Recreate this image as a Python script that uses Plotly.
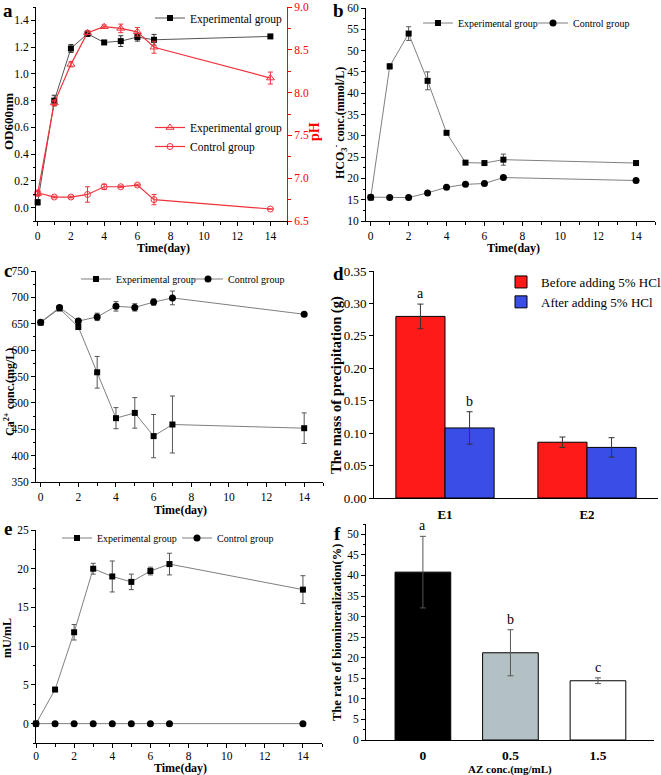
import plotly.graph_objects as go

W, H = 661, 775
FONT = "Liberation Serif"
RED = "#F2323C"
GREY_LINE = "#7F7F7F"

# ---------------- data ----------------
days = [0, 1, 2, 3, 4, 5, 6, 7, 14]

# panel a
od_exp = [0.04, 0.80, 1.19, 1.30, 1.235, 1.245, 1.275, 1.255, 1.28]
od_exp_err = [0.02, 0.04, 0.03, 0.02, 0.01, 0.04, 0.03, 0.04, 0.01]
ph_exp = [6.82, 7.88, 8.33, 8.70, 8.77, 8.75, 8.71, 8.53, 8.17]
ph_exp_err = [0.03, 0.03, 0.03, 0.02, 0.02, 0.05, 0.05, 0.07, 0.07]
ph_ctl = [6.83, 6.78, 6.78, 6.81, 6.90, 6.90, 6.92, 6.75, 6.64]
ph_ctl_err = [0.02, 0.01, 0.01, 0.09, 0.03, 0.01, 0.01, 0.06, 0.0]

# panel b
hco3_exp = [15.5, 46.3, 54.0, 42.9, 30.7, 23.7, 23.6, 24.4, 23.6]
hco3_exp_err = [0.3, 0.6, 1.6, 2.1, 0.3, 0.3, 0.3, 1.3, 0.5]
hco3_ctl = [15.6, 15.5, 15.5, 16.6, 17.9, 18.6, 18.8, 20.2, 19.5]

# panel c
ca_exp = [652, 679, 644, 558, 471, 481, 437, 459, 452]
ca_exp_err = [3, 4, 5, 30, 20, 29, 41, 54, 29]
ca_ctl = [653, 681, 655, 663, 683, 681, 691, 699, 668]
ca_ctl_err = [2, 3, 3, 7, 9, 7, 6, 13, 2]

# panel d
d_cats = ["E1", "E2"]
d_before = [0.280, 0.086]
d_before_err = [0.019, 0.008]
d_after = [0.108, 0.078]
d_after_err = [0.025, 0.015]
d_letters_before = ["a", ""]
d_letters_after = ["b", ""]

# panel e
ca_enz_exp = [0.0, 4.4, 11.8, 20.0, 19.0, 18.3, 19.7, 20.6, 17.3]
ca_enz_exp_err = [0.0, 0.2, 1.0, 0.7, 2.0, 1.0, 0.5, 1.4, 1.8]
ca_enz_ctl = [0, 0, 0, 0, 0, 0, 0, 0, 0]

# panel f
f_cats = ["0", "0.5", "1.5"]
f_rate = [40.8, 21.2, 14.4]
f_rate_err = [8.7, 5.6, 0.7]
f_letters = ["a", "b", "c"]
f_colors = ["#000000", "#B4C1C4", "#FFFFFF"]


def xd(a, b):
    return [a / W, b / W]


def yd(top, bottom):
    return [1 - bottom / H, 1 - top / H]


TICKFONT = dict(family=FONT, size=11.5, color="black")


def ax(**kw):
    d = dict(showline=True, linecolor="black", linewidth=1, ticks="outside",
             ticklen=4, tickwidth=1, tickcolor="black", showgrid=False,
             zeroline=False, mirror=False, tickfont=TICKFONT)
    d.update(kw)
    return d


def minor(dt, color="black"):
    return dict(dtick=dt, ticks="outside", ticklen=2.5, tickcolor=color, tickwidth=1)


fig = go.Figure()

sq = dict(symbol="square", size=6, color="black")
circ = dict(symbol="circle", size=7, color="black")

# ---------------- panel a ----------------
fig.add_trace(go.Scatter(x=days, y=od_exp, mode="lines+markers", name="Experimental group",
                         line=dict(color="#555555", width=1), marker=sq,
                         error_y=dict(array=od_exp_err, color="#333333", thickness=1, width=2.5),
                         xaxis="x", yaxis="y", legend="legend", cliponaxis=False))
fig.add_trace(go.Scatter(x=days, y=ph_exp, mode="lines+markers", name="Experimental group",
                         line=dict(color=RED, width=1.2),
                         marker=dict(symbol="triangle-up-open", size=7, color=RED, line=dict(width=1)),
                         error_y=dict(array=ph_exp_err, color=RED, thickness=1, width=2.5),
                         xaxis="x", yaxis="y7", legend="legend2", cliponaxis=False))
fig.add_trace(go.Scatter(x=days, y=ph_ctl, mode="lines+markers", name="Control group",
                         line=dict(color=RED, width=1.2),
                         marker=dict(symbol="circle-open", size=6, color=RED, line=dict(width=1)),
                         error_y=dict(array=ph_ctl_err, color=RED, thickness=1, width=2.5),
                         xaxis="x", yaxis="y7", legend="legend2", cliponaxis=False))

# ---------------- panel b ----------------
fig.add_trace(go.Scatter(x=days, y=hco3_exp, mode="lines+markers", name="Experimental group",
                         line=dict(color=GREY_LINE, width=1), marker=sq,
                         error_y=dict(array=hco3_exp_err, color="#555555", thickness=1, width=2.5),
                         xaxis="x2", yaxis="y2", legend="legend3", cliponaxis=False))
fig.add_trace(go.Scatter(x=days, y=hco3_ctl, mode="lines+markers", name="Control group",
                         line=dict(color=GREY_LINE, width=1), marker=circ,
                         xaxis="x2", yaxis="y2", legend="legend3", cliponaxis=False))

# ---------------- panel c ----------------
fig.add_trace(go.Scatter(x=days, y=ca_exp, mode="lines+markers", name="Experimental group",
                         line=dict(color=GREY_LINE, width=1), marker=sq,
                         error_y=dict(array=ca_exp_err, color="#555555", thickness=1, width=2.5),
                         xaxis="x3", yaxis="y3", legend="legend4", cliponaxis=False))
fig.add_trace(go.Scatter(x=days, y=ca_ctl, mode="lines+markers", name="Control group",
                         line=dict(color=GREY_LINE, width=1), marker=circ,
                         error_y=dict(array=ca_ctl_err, color="#555555", thickness=1, width=2.5),
                         xaxis="x3", yaxis="y3", legend="legend4", cliponaxis=False))

# ---------------- panel d ----------------
BW_D = 0.346
fig.add_trace(go.Bar(x=d_cats, y=d_before, name="Before adding 5% HCl", width=BW_D, offset=-BW_D,
                     marker=dict(color="#FF1A1A", line=dict(color="black", width=1)),
                     error_y=dict(array=d_before_err, color="#333333", thickness=1, width=3),
                     xaxis="x4", yaxis="y4", legend="legend5"))
fig.add_trace(go.Bar(x=d_cats, y=d_after, name="After adding 5% HCl", width=BW_D, offset=0,
                     marker=dict(color="#3A4DE6", line=dict(color="black", width=1)),
                     error_y=dict(array=d_after_err, color="#333333", thickness=1, width=3),
                     xaxis="x4", yaxis="y4", legend="legend5"))

# ---------------- panel e ----------------
fig.add_trace(go.Scatter(x=days, y=ca_enz_exp, mode="lines+markers", name="Experimental group",
                         line=dict(color=GREY_LINE, width=1), marker=sq,
                         error_y=dict(array=ca_enz_exp_err, color="#555555", thickness=1, width=2.5),
                         xaxis="x5", yaxis="y5", legend="legend6", cliponaxis=False))
fig.add_trace(go.Scatter(x=days, y=ca_enz_ctl, mode="lines+markers", name="Control group",
                         line=dict(color=GREY_LINE, width=1), marker=circ,
                         xaxis="x5", yaxis="y5", legend="legend6", cliponaxis=False))

# ---------------- panel f ----------------
BW_F = 0.636
fig.add_trace(go.Bar(x=f_cats, y=f_rate, width=BW_F, showlegend=False,
                     marker=dict(color=f_colors, line=dict(color="black", width=1)),
                     error_y=dict(array=f_rate_err, color="#555555", thickness=1, width=3),
                     xaxis="x6", yaxis="y6"))

# ---------------- layout ----------------
annotations = []


def lab(text, x, y, size=19):
    annotations.append(dict(text=f"<b>{text}</b>", x=x / W, y=1 - y / H, xref="paper", yref="paper",
                            xanchor="center", yanchor="middle",
                            showarrow=False, font=dict(family=FONT, size=size, color="black")))


def title(text, x, y, angle=0, size=12, color="black"):
    annotations.append(dict(text=f"<b>{text}</b>", x=x / W, y=1 - y / H, xref="paper", yref="paper",
                            xanchor="center", yanchor="middle",
                            showarrow=False, textangle=angle,
                            font=dict(family=FONT, size=size, color=color)))


for t, x, y in [("a", 8, 10), ("b", 338, 11), ("c", 8, 270), ("d", 338, 273), ("e", 8, 528), ("f", 337, 533)]:
    lab(t, x, y)

title("OD600nm", 8, 122, -90, 13)
title("pH", 315, 132, -90, 14, "#FF0000")
title("Time(day)", 163, 248)
title("HCO<sub>3</sub><sup>-</sup> conc.(mmol/L)", 341, 123, -90, 12)
title("Time(day)", 513, 248)
title("Ca<sup>2+</sup> conc.(mg/L)", 9, 392, -90, 12)
title("Time(day)", 180, 510)
title("The mass of precipitation (g)", 336, 385, -90, 14.5)
title("mU/mL", 7, 638, -90, 12)
title("Time(day)", 180, 768)
title("The rate of biomineralization(%)", 337, 633, -90, 12.5)
title("AZ conc.(mg/mL)", 510, 769, 0, 11)

# letters on bars
for i, c in enumerate(d_cats):
    if d_letters_before[i]:
        annotations.append(dict(text=d_letters_before[i], x=i - BW_D / 2, y=d_before[i] + d_before_err[i],
                                xref="x4", yref="y4", yanchor="bottom", showarrow=False, yshift=1,
                                font=dict(family=FONT, size=14, color="black")))
    if d_letters_after[i]:
        annotations.append(dict(text=d_letters_after[i], x=i + BW_D / 2, y=d_after[i] + d_after_err[i],
                                xref="x4", yref="y4", yanchor="bottom", showarrow=False, yshift=1,
                                font=dict(family=FONT, size=14, color="black")))
for i, c in enumerate(f_cats):
    annotations.append(dict(text=f_letters[i], x=i, y=f_rate[i] + f_rate_err[i],
                            xref="x6", yref="y6", yanchor="bottom", showarrow=False, yshift=1,
                            font=dict(family=FONT, size=14, color="black")))

leg_common = dict(bgcolor="rgba(0,0,0,0)", borderwidth=0, xref="paper", yref="paper",
                  xanchor="left", yanchor="middle", itemclick=False,
                  font=dict(family=FONT, size=10, color="black"))
f11 = dict(family=FONT, size=11.5, color="black")
f13 = dict(family=FONT, size=13, color="black")

fig.update_layout(
    width=W, height=H, margin=dict(l=0, r=0, t=0, b=0, autoexpand=False),
    plot_bgcolor="white", paper_bgcolor="white",
    barmode="overlay",
    font=dict(family=FONT, color="black"),
    annotations=annotations,
    # a
    xaxis=ax(domain=xd(36, 287), anchor="y", range=[-0.1, 15], tick0=0, dtick=2, minor=minor(1)),
    yaxis=ax(domain=yd(7, 221), anchor="x", range=[-0.1, 1.5], tick0=0, dtick=0.2, tickformat=".1f",
             minor=minor(0.1)),
    yaxis7=ax(overlaying="y", side="right", anchor="x", range=[6.5, 9.0], tick0=6.5, dtick=0.5,
              tickformat=".1f", linecolor="#FF0000", tickcolor="#FF0000",
              tickfont=dict(family=FONT, size=11.5, color="#FF0000"), minor=minor(0.25, "#FF0000")),
    # b
    xaxis2=ax(domain=xd(366, 655), anchor="y2", range=[-0.25, 15], tick0=0, dtick=2, minor=minor(1)),
    yaxis2=ax(domain=yd(8, 221), anchor="x2", range=[10, 60], tick0=10, dtick=5, minor=minor(2.5)),
    # c
    xaxis3=ax(domain=xd(36, 323), anchor="y3", range=[-0.25, 15], tick0=0, dtick=2, minor=minor(1)),
    yaxis3=ax(domain=yd(271, 482), anchor="x3", range=[350, 750], tick0=350, dtick=50, minor=minor(25)),
    # d
    xaxis4=ax(domain=xd(374, 658), anchor="y4", type="category", range=[-0.5, 1.5], ticks="",
              ticklabelstandoff=4,
              tickfont=dict(family=FONT, size=13, color="black"), tickprefix="<b>", ticksuffix="</b>"),
    yaxis4=ax(domain=yd(271, 498), anchor="x4", range=[0, 0.35], tick0=0, dtick=0.05, tickformat=".2f",
              tickfont=dict(family=FONT, size=13, color="black")),
    # e
    xaxis5=ax(domain=xd(36, 322), anchor="y5", range=[0, 15], tick0=0, dtick=2, minor=minor(1),
              ticklabelstandoff=-2),
    yaxis5=ax(domain=yd(530, 743), anchor="x5", range=[-2.5, 25], tick0=0, dtick=5, minor=minor(2.5)),
    # f
    xaxis6=ax(domain=xd(366, 654), anchor="y6", type="category", range=[-0.65, 2.64], ticks="",
              ticklabelstandoff=3,
              tickfont=dict(family=FONT, size=13.5, color="black"), tickprefix="<b>", ticksuffix="</b>"),
    yaxis6=ax(domain=yd(524, 740), anchor="x6", range=[0, 52.5], tick0=0, dtick=5, minor=minor(2.5)),
    legend=dict(leg_common, x=150 / W, y=1 - 18 / H, font=f11),
    legend2=dict(leg_common, x=150 / W, y=1 - 137 / H, font=f11),
    legend3=dict(leg_common, x=418 / W, y=1 - 23 / H, orientation="h", entrywidth=70),
    legend4=dict(leg_common, x=76 / W, y=1 - 279 / H, orientation="h", entrywidth=67),
    legend5=dict(leg_common, x=501 / W, y=1 - 292 / H, font=f13),
    legend6=dict(leg_common, x=57 / W, y=1 - 538 / H, orientation="h", entrywidth=75),
)

fig.write_html("out.html", config={"displayModeBar": False},
               post_script="document.body.style.margin='0';")
